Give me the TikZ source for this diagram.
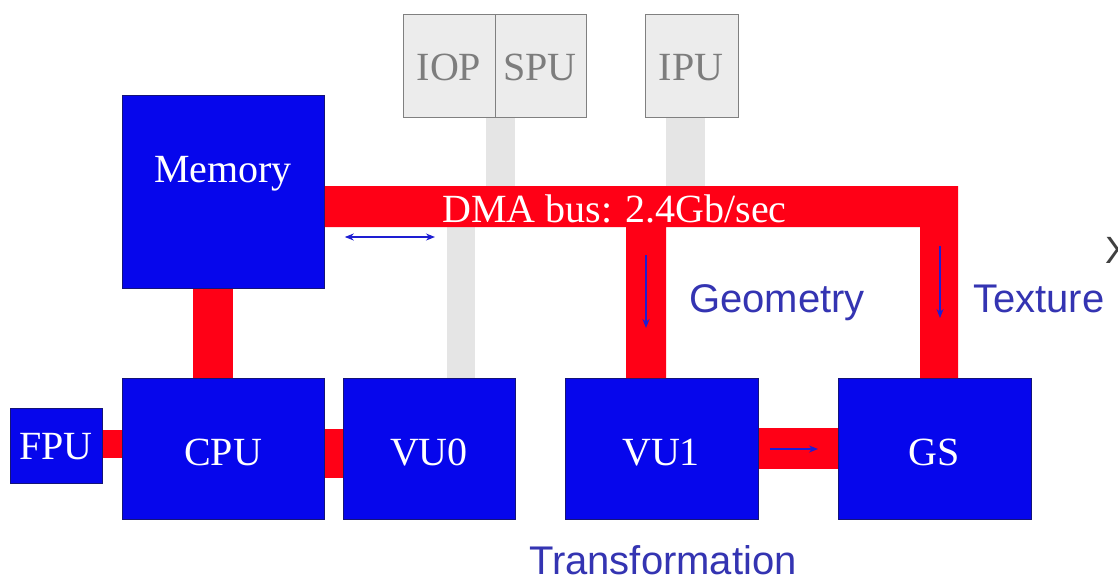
\documentclass[tikz,border=0pt]{standalone}
\usepackage{fontspec}
\setmainfont{Liberation Serif}
\newfontfamily\labelfont{Liberation Sans}
\usetikzlibrary{arrows.meta,calc}
\definecolor{boxblue}{RGB}{6,6,236}
\definecolor{boxedge}{RGB}{20,20,120}
\definecolor{busred}{RGB}{255,0,22}
\definecolor{grayfill}{RGB}{236,236,236}
\definecolor{grayedge}{RGB}{128,128,128}
\definecolor{graytext}{RGB}{125,125,125}
\definecolor{stemgray}{RGB}{229,229,229}
\definecolor{lblblue}{RGB}{52,52,178}
\definecolor{arrblue}{RGB}{30,30,210}
\begin{document}
\begin{tikzpicture}[x=1pt,y=-1pt,
  unitbox/.style={draw=boxedge, line width=0.8pt, fill=boxblue, inner sep=0pt, anchor=north west},
  graybox/.style={draw=grayedge, line width=0.8pt, fill=grayfill, inner sep=0pt, anchor=north west},
  bus/.style={fill=busred},
  stem/.style={fill=stemgray},
  wtxt/.style={text=white, font=\fontsize{40}{40}\selectfont, anchor=base, inner sep=0pt},
  gtxt/.style={text=graytext, font=\fontsize{40}{40}\selectfont, anchor=base, inner sep=0pt},
  btxt/.style={text=lblblue, font=\labelfont\fontsize{40}{40}\selectfont, anchor=base west, inner sep=0pt},
  flow/.style={draw=arrblue, line width=1.3pt, -{Stealth[length=9pt,width=7pt]}},
  bothflow/.style={draw=arrblue, line width=1.3pt, {Stealth[length=9pt,width=7pt]}-{Stealth[length=9pt,width=7pt]}}
]
\useasboundingbox (0,0) rectangle (1118,579);
\fill[white] (0,0) rectangle (1118,579);

% boxes
\node[unitbox, minimum width=202pt, minimum height=193pt] (mem) at (122,95) {};
\node[unitbox, minimum width=202pt, minimum height=141pt] (cpu) at (122,378) {};
\node[unitbox, minimum width=92pt, minimum height=75pt] (fpu) at (10,408) {};
\node[unitbox, minimum width=172pt, minimum height=141pt] (vu0) at (343,378) {};
\node[unitbox, minimum width=193pt, minimum height=141pt] (vu1) at (565,378) {};
\node[unitbox, minimum width=193pt, minimum height=141pt] (gs) at (838,378) {};
\node[graybox, minimum width=92pt, minimum height=103pt] (iop) at (403,14) {};
\node[graybox, minimum width=91pt, minimum height=103pt] (spu) at (495,14) {};
\node[graybox, minimum width=93pt, minimum height=103pt] (ipu) at (645,14) {};

% bus corner coordinates
\coordinate (bustop) at (0,186);
\coordinate (busbot) at (0,227);

% gray stems
\fill[stem] (486,0 |- spu.south) rectangle (515,0 |- bustop);
\fill[stem] (447,0 |- busbot) rectangle (475,0 |- vu0.north);
\fill[stem] (666,0 |- ipu.south) rectangle (705,0 |- bustop);

% red connectors
\fill[bus] (193,0 |- mem.south) rectangle (233,0 |- cpu.north);
\fill[bus] (fpu.east |- 0,430) rectangle (cpu.west |- 0,458);
\fill[bus] (cpu.east |- 0,429) rectangle (vu0.west |- 0,478);
\fill[bus] (vu1.east |- 0,428) rectangle (gs.west |- 0,469);
\fill[bus] (mem.east |- bustop) -- (958,0 |- bustop) -- (958,0 |- gs.north)
  -- (920,0 |- gs.north) -- (920,0 |- busbot) -- (666,0 |- busbot)
  -- (666,0 |- vu1.north) -- (626,0 |- vu1.north) -- (626,0 |- busbot)
  -- (mem.east |- busbot) -- cycle;

% texts
\node[wtxt] (memt) at (223,182) {Memory};
\node[wtxt] (cput) at (223,465) {CPU};
\node[wtxt] (fput) at (56,459) {FPU};
\node[wtxt] (vu0t) at (429,465) {VU0};
\node[wtxt] (vu1t) at (661,465) {VU1};
\node[wtxt] (gst) at (934,465) {GS};
\node[wtxt, anchor=base west] (dmat) at (442,222) {DMA bus: 2.4Gb/sec};
\node[gtxt] (iopt) at (449,80) {IOP};
\node[gtxt] (sput) at (540,80) {SPU};
\node[gtxt] (iput) at (691,80) {IPU};
\node[btxt] (geot) at (689,312) {Geometry};
\node[btxt] (text) at (973,312) {Texture};
\node[btxt] (trat) at (529,574) {Transformation};
\node[text=black!75, font=\labelfont\fontsize{38}{38}\selectfont, anchor=base west, inner sep=0pt] (xt) at (1105,263) {X};

% arrows
\coordinate (dmaL) at ($(mem.east |- 0,237)+(20,0)$);
\coordinate (dmaR) at (435,237);
\draw[bothflow] (dmaL) -- (dmaR);
\coordinate (geoA) at (646,255);
\coordinate (geoB) at (646,328);
\draw[flow] (geoA) -- (geoB);
\coordinate (texA) at (940,246);
\coordinate (texB) at (940,318);
\draw[flow] (texA) -- (texB);
\coordinate (vgA) at ($(vu1.east |- 0,449)+(11,0)$);
\coordinate (vgB) at (818,449);
\draw[flow] (vgA) -- (vgB);
\end{tikzpicture}
\end{document}
